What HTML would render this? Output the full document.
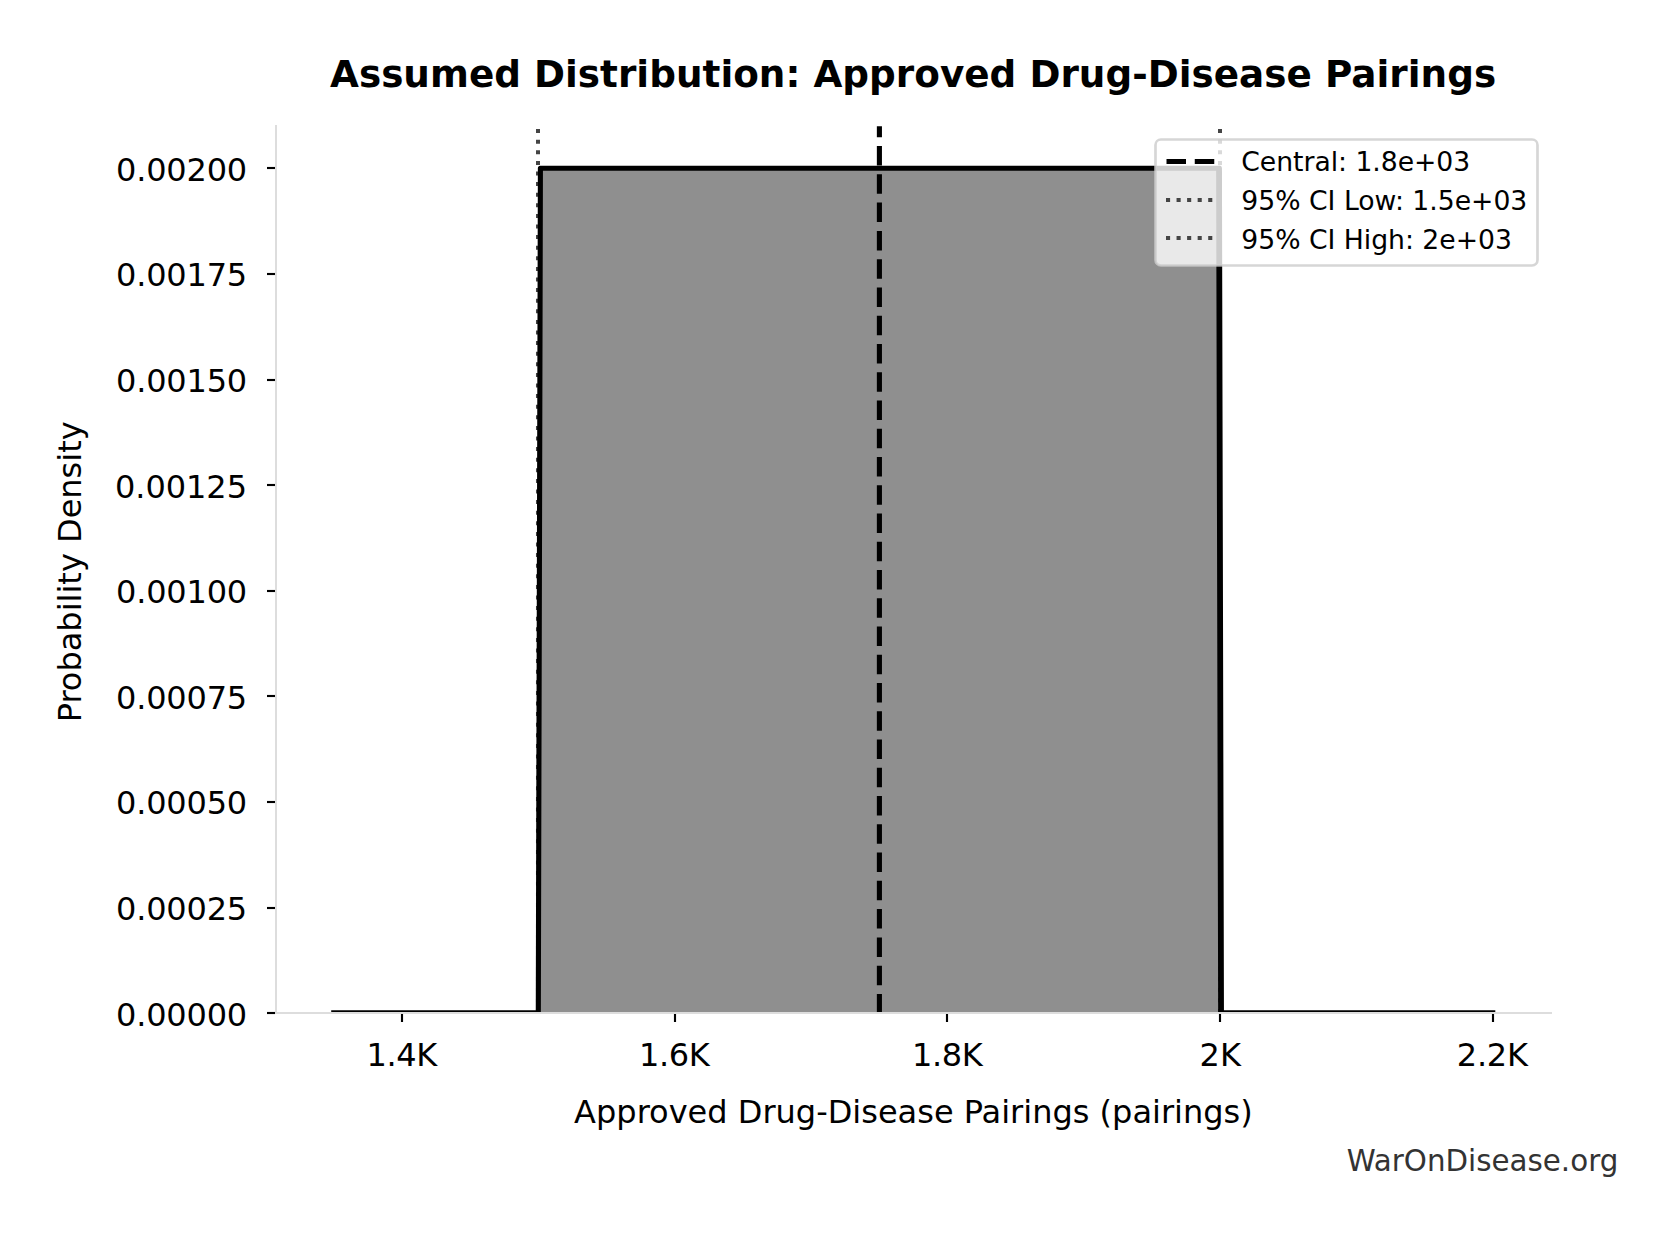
<!DOCTYPE html>
<html lang="en"><head><meta charset="utf-8"><title>Assumed Distribution: Approved Drug-Disease Pairings</title>
<style>
html,body{margin:0;padding:0;background:#fff;}
body{width:1675px;height:1234px;overflow:hidden;}
svg{display:block;}
text{font-family:"DejaVu Sans","Liberation Sans",sans-serif;fill:#000;}
.tk{font-size:32px;}
.lb{font-size:32px;}
.tt{font-size:37.33px;font-weight:bold;}
.lg{font-size:26.67px;}
.wm{font-size:29.33px;fill:#333;}
</style></head><body>
<svg width="1675" height="1234" viewBox="0 0 1675 1234">
<defs><clipPath id="ax"><rect x="276.0" y="126.3" width="1275.0" height="886.7"/></clipPath></defs>
<rect width="1675" height="1234" fill="#fff"/>

<g clip-path="url(#ax)">
<polygon points="538.3,1013.3 540.4,168.30 1219.0,168.30 1221.0,1013.3" fill="#8f8f8f"/>
<line x1="537.98" x2="537.98" y1="129.1" y2="1013.3" stroke="#444" stroke-width="4" stroke-dasharray="4 6.6"/>
<line x1="1220.00" x2="1220.00" y1="129.1" y2="1013.3" stroke="#444" stroke-width="4" stroke-dasharray="4 6.6"/>
<line x1="879.4" x2="879.4" y1="117.83999999999999" y2="1013.3" stroke="#000" stroke-width="5.1" stroke-dasharray="19.5 8.76"/>
<line x1="331.21" x2="539.3" y1="1013.1" y2="1013.1" stroke="#000" stroke-width="5.7"/>
<line x1="1221.0" x2="1495.30" y1="1013.1" y2="1013.1" stroke="#000" stroke-width="5.7"/>
<polyline points="538.29,1019.3 538.3,1013.3 540.4,168.30 1219.0,168.30" fill="none" stroke="#000" stroke-width="5.1" stroke-linejoin="round"/>
<polyline points="1218.65,168.30 1219.05,168.30 1221.05,1013.3 1221.06,1019.3" fill="none" stroke="#000" stroke-width="5.8" stroke-linejoin="round"/>
</g>
<line x1="276.0" x2="276.0" y1="125.0" y2="1014.0" stroke="#ddd" stroke-width="2"/>
<line x1="275.0" x2="1552.0" y1="1013.0" y2="1013.0" stroke="#ddd" stroke-width="2"/>
<line x1="402" x2="402" y1="1014" y2="1022" stroke="#000" stroke-width="2.13"/>
<text class="tk" x="401.80" y="1066" text-anchor="middle" textLength="70.7">1.4K</text>
<line x1="675" x2="675" y1="1014" y2="1022" stroke="#000" stroke-width="2.13"/>
<text class="tk" x="674.35" y="1066" text-anchor="middle" textLength="70.7">1.6K</text>
<line x1="947" x2="947" y1="1014" y2="1022" stroke="#000" stroke-width="2.13"/>
<text class="tk" x="947.40" y="1066" text-anchor="middle" textLength="70.7">1.8K</text>
<line x1="1220" x2="1220" y1="1014" y2="1022" stroke="#000" stroke-width="2.13"/>
<text class="tk" x="1220.25" y="1066" text-anchor="middle" textLength="41.7">2K</text>
<line x1="1493" x2="1493" y1="1014" y2="1022" stroke="#000" stroke-width="2.13"/>
<text class="tk" x="1492.40" y="1066" text-anchor="middle" textLength="71.1">2.2K</text>
<line x1="267" x2="275" y1="1013" y2="1013" stroke="#000" stroke-width="2.13"/>
<text class="tk" x="247.2" y="1026" text-anchor="end" textLength="131.2">0.00000</text>
<line x1="267" x2="275" y1="908" y2="908" stroke="#000" stroke-width="2.13"/>
<text class="tk" x="247.2" y="920" text-anchor="end" textLength="131.2">0.00025</text>
<line x1="267" x2="275" y1="802" y2="802" stroke="#000" stroke-width="2.13"/>
<text class="tk" x="247.2" y="814" text-anchor="end" textLength="131.2">0.00050</text>
<line x1="267" x2="275" y1="696" y2="696" stroke="#000" stroke-width="2.13"/>
<text class="tk" x="247.2" y="709" text-anchor="end" textLength="131.2">0.00075</text>
<line x1="267" x2="275" y1="591" y2="591" stroke="#000" stroke-width="2.13"/>
<text class="tk" x="247.2" y="603" text-anchor="end" textLength="131.2">0.00100</text>
<line x1="267" x2="275" y1="485" y2="485" stroke="#000" stroke-width="2.13"/>
<text class="tk" x="247.0" y="498" text-anchor="end" textLength="132.0">0.00125</text>
<line x1="267" x2="275" y1="380" y2="380" stroke="#000" stroke-width="2.13"/>
<text class="tk" x="247.2" y="392" text-anchor="end" textLength="131.2">0.00150</text>
<line x1="267" x2="275" y1="274" y2="274" stroke="#000" stroke-width="2.13"/>
<text class="tk" x="247.2" y="286" text-anchor="end" textLength="131.2">0.00175</text>
<line x1="267" x2="275" y1="168" y2="168" stroke="#000" stroke-width="2.13"/>
<text class="tk" x="247.2" y="181" text-anchor="end" textLength="131.2">0.00200</text>
<text class="lb" x="913.4" y="1122.7" text-anchor="middle">Approved Drug-Disease Pairings (pairings)</text>
<text class="lb" transform="translate(81,571.85) rotate(-90)" text-anchor="middle">Probability Density</text>
<text class="tt" x="330" y="87" textLength="1166.1">Assumed Distribution: Approved Drug-Disease Pairings</text>
<text class="wm" x="1618.3" y="1171.2" text-anchor="end">WarOnDisease.org</text>
<rect x="1155.5" y="139.5" width="382.0" height="126.0" rx="5.4" ry="5.4" fill="#fff" fill-opacity="0.8" stroke="#ccc" stroke-opacity="0.8" stroke-width="2.67"/>
<line x1="1166.5" x2="1221" y1="161.5" y2="161.5" stroke="#000" stroke-width="5.1" stroke-dasharray="19.5 8.76"/>
<line x1="1166" x2="1214" y1="200.0" y2="200.0" stroke="#444" stroke-width="4.1" stroke-dasharray="4.1 6.45"/>
<line x1="1166" x2="1214" y1="238.0" y2="238.0" stroke="#444" stroke-width="4.1" stroke-dasharray="4.1 6.45"/>
<text class="lg" x="1241.3" y="170.9" textLength="228.9">Central: 1.8e+03</text>
<text class="lg" x="1241.3" y="209.8" textLength="286.0">95% CI Low: 1.5e+03</text>
<text class="lg" x="1241.3" y="248.75" textLength="270.6">95% CI High: 2e+03</text>
</svg>
</body></html>
